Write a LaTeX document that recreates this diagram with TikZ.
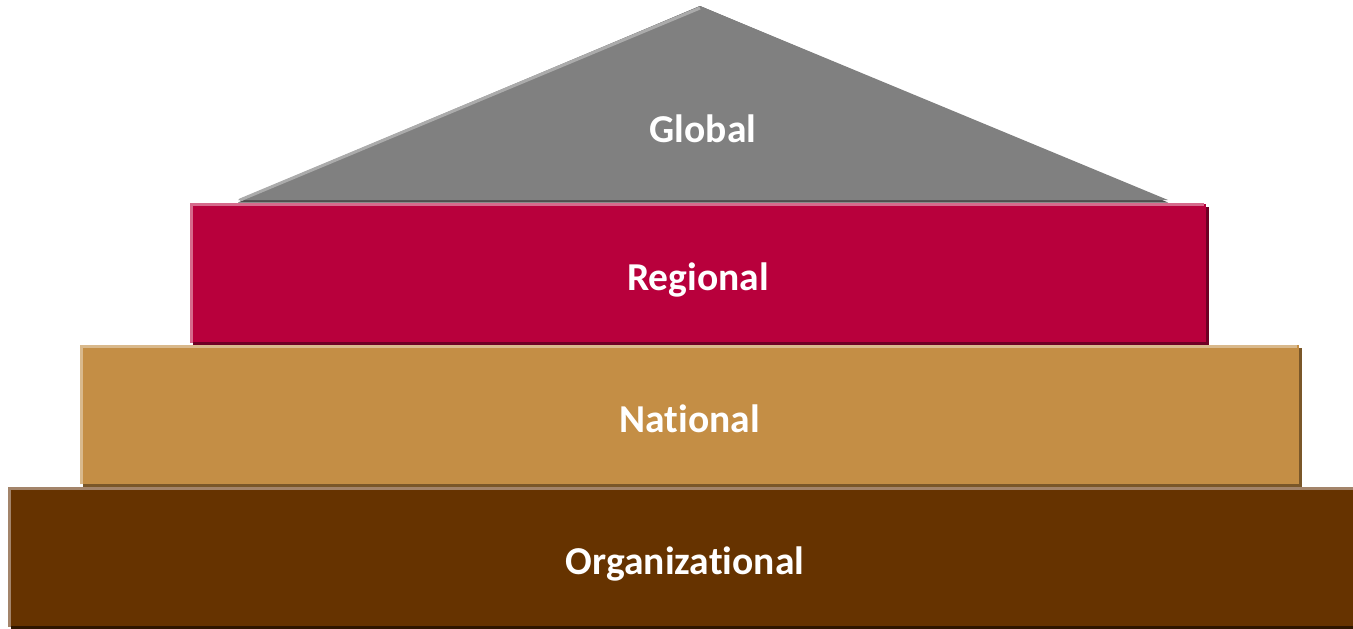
\documentclass[tikz,border=0pt]{standalone}
\usepackage{fontspec}
\setmainfont{Carlito}[Ligatures=NoCommon]
\usetikzlibrary{shadows}
\definecolor{grisf}{HTML}{808080}
\definecolor{grisc}{HTML}{ABABAB}
\definecolor{griso}{HTML}{4D4D4D}
\definecolor{rougef}{HTML}{B8003C}
\definecolor{rougec}{HTML}{D66A8C}
\definecolor{rougeo}{HTML}{6E0024}
\definecolor{ocref}{HTML}{C48E45}
\definecolor{ocrec}{HTML}{D9B98C}
\definecolor{ocreo}{HTML}{7A5729}
\definecolor{brunf}{HTML}{663300}
\definecolor{brunc}{HTML}{A3846A}
\definecolor{bruno}{HTML}{2E1600}
\begin{document}
\begin{tikzpicture}[x=0.02cm,y=-0.02cm]
	\tikzstyle{etage}=[rectangle,inner sep=0pt,text=white,font=\fontsize{22.5}{27}\selectfont\bfseries,minimum height=2.78cm,text height=20pt,text depth=0pt]
	\tikzstyle{bord}=[line width=0.06cm]
	\useasboundingbox (0,0) rectangle (1353,629);
	\coordinate (S) at (700,6);
	\coordinate (G) at (238,200);
	\coordinate (H) at (1168,200);
	\fill[griso] ([yshift=-0.05cm]G) -- ([yshift=-0.05cm]H) -- (S) -- cycle;
	\fill[grisf] (S) -- (H) -- (G) -- cycle;
	\draw[bord,grisc] ([xshift=0.04cm]G) -- ([yshift=-0.04cm]S);
	\node[anchor=base,inner sep=0pt,text=white,font=\fontsize{22.5}{27}\selectfont\bfseries] (E) at (703,142) {Global};
	\node[etage,minimum width=20.32cm,fill=rougef,drop shadow={shadow xshift=0.06cm,shadow yshift=-0.06cm,fill=rougeo,opacity=1}] (D) at (698,273) {Regional};
	\node[etage,minimum width=24.38cm,fill=ocref,drop shadow={shadow xshift=0.06cm,shadow yshift=-0.06cm,fill=ocreo,opacity=1}] (C) at (689.5,414.5) {National};
	\node[etage,minimum width=27.08cm,fill=brunf,drop shadow={shadow xshift=0.06cm,shadow yshift=-0.06cm,fill=bruno,opacity=1}] (B) at (685,557) {Organizational};
	\draw[bord,rougec] ([xshift=0.03cm]D.south west) -- ([xshift=0.03cm,yshift=-0.03cm]D.north west) -- ([xshift=-0.05cm,yshift=-0.03cm]D.north east);
	\draw[bord,ocrec] ([xshift=0.03cm]C.south west) -- ([xshift=0.03cm,yshift=-0.03cm]C.north west) -- ([xshift=-0.05cm,yshift=-0.03cm]C.north east);
	\draw[bord,brunc] ([xshift=0.03cm]B.south west) -- ([xshift=0.03cm,yshift=-0.03cm]B.north west) -- ([xshift=-0.05cm,yshift=-0.03cm]B.north east);
\end{tikzpicture}
\end{document}
